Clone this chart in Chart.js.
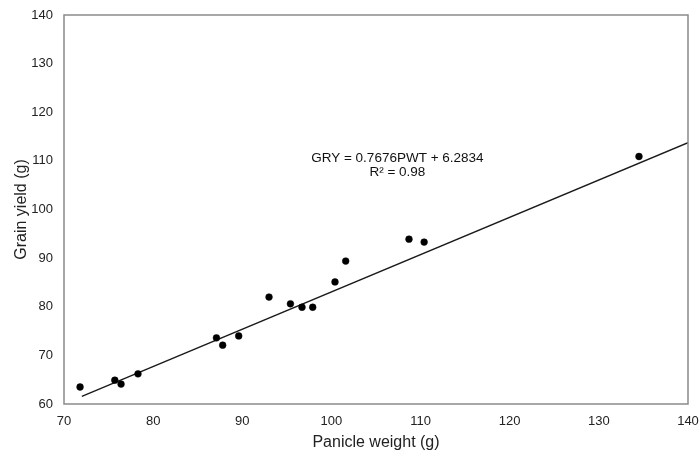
<!DOCTYPE html>
<html>
<head>
<meta charset="utf-8">
<script src="https://cdn.jsdelivr.net/npm/chart.js@4.4.1/dist/chart.umd.min.js"></script>
<style>
    html, body { margin: 0; padding: 0; background: #fff; }
    #wrap { width: 699px; height: 452px; }
</style>
</head>
<body>
<div id="wrap"><canvas id="yieldChart" width="699" height="452"></canvas></div>
<script>
// --------- Données : poids des panicules vs rendement en grain ----------
const panicleWeight = [71.8, 75.7, 76.4, 78.3, 87.1, 87.8, 89.6, 93.0, 95.4, 96.7, 97.9, 100.4, 101.6, 108.7, 110.4, 134.5];
const grainYield    = [63.5, 64.9, 64.1, 66.2, 73.6, 72.1, 74.0, 82.0, 80.6, 79.9, 79.9, 85.1, 89.4, 93.9, 93.3, 110.9];

const xTicks = [70, 80, 90, 100, 110, 120, 130, 140];
const yTicks = [60, 70, 80, 90, 100, 110, 120, 130, 140];

// régression linéaire affichée sur le graphique
const slope = 0.7676;
const intercept = 6.2834;
const fitRange = [72, 140];
const fitLabel = ["GRY = 0.7676PWT + 6.2834", "R\u00b2 = 0.98"];

const FONT = "'Liberation Sans', Arial, Helvetica, sans-serif";

const points = panicleWeight.map((x, i) => ({ x: x, y: grainYield[i] }));
const fitLine = fitRange.map(x => ({ x: x, y: slope * x + intercept }));

// cadre gris autour de la zone de tracé + équation
const framePlugin = {
    id: "frame",
    afterDraw(chart) {
        const { ctx, chartArea: a, scales } = chart;
        ctx.save();
        ctx.strokeStyle = "#8a8a8a";
        ctx.lineWidth = 1.5;
        ctx.strokeRect(a.left, a.top, a.right - a.left, a.bottom - a.top);

        ctx.fillStyle = "#111";
        ctx.font = "13.5px " + FONT;
        ctx.textAlign = "center";
        ctx.textBaseline = "middle";
        const cx = scales.x.getPixelForValue(107.4);
        ctx.fillText(fitLabel[0], cx, scales.y.getPixelForValue(110.6));
        ctx.fillText(fitLabel[1], cx, scales.y.getPixelForValue(107.7));
        ctx.restore();
    }
};

new Chart(document.getElementById("yieldChart"), {
    type: "scatter",
    data: {
        datasets: [
            {
                type: "line",
                data: fitLine,
                borderColor: "#1a1a1a",
                borderWidth: 1.4,
                pointRadius: 0,
                fill: false,
                tension: 0,
                order: 2
            },
            {
                data: points,
                backgroundColor: "#000",
                borderColor: "#000",
                pointRadius: 3.4,
                pointBorderWidth: 0.5,
                order: 1
            }
        ]
    },
    options: {
        responsive: false,
        animation: false,
        layout: { padding: { left: 0, right: 0, top: 15, bottom: 0 } },
        plugins: {
            legend: { display: false },
            tooltip: { enabled: false }
        },
        scales: {
            x: {
                type: "linear",
                min: 70,
                max: 140,
                afterBuildTicks: s => { s.ticks = xTicks.map(v => ({ value: v })); },
                afterFit: s => { s.height = 48; s.paddingRight = 11; s.paddingLeft = 0; },
                grid: { display: false },
                border: { display: false },
                ticks: { color: "#222", font: { family: FONT, size: 13 }, padding: 2, maxRotation: 0 },
                title: {
                    display: true,
                    text: "Panicle weight (g)",
                    color: "#222",
                    font: { family: FONT, size: 16 },
                    padding: { top: 2, bottom: 0 }
                }
            },
            y: {
                type: "linear",
                min: 60,
                max: 140,
                afterBuildTicks: s => { s.ticks = yTicks.map(v => ({ value: v })); },
                afterFit: s => { s.width = 64; },
                grid: { display: false },
                border: { display: false },
                ticks: { color: "#222", font: { family: FONT, size: 13 }, padding: 3 },
                title: {
                    display: true,
                    text: "Grain yield (g)",
                    color: "#222",
                    font: { family: FONT, size: 16 },
                    padding: { top: 12, bottom: 0 }
                }
            }
        }
    },
    plugins: [framePlugin]
});
</script>
</body>
</html>
